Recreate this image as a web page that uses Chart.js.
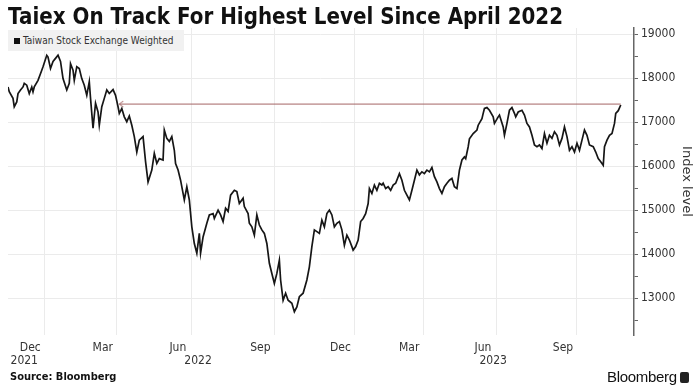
<!DOCTYPE html>
<html lang="en"><head>
<title>Taiex</title>
<style>
* { margin: 0; padding: 0 }
body { background: #fff; }
#Wrap { position: relative; width: 700px; height: 387px; background: #fff; overflow: hidden; }
#Chart { position: absolute; left: 0; top: 0; }
#Title {
    position: absolute; left: 8px; top: 3px; white-space: nowrap;
    font: bold 23px "DejaVu Sans", sans-serif;
    color: #111; transform-origin: 0 0;
}
#Legend {
    position: absolute; left: 8px; top: 30px; width: 176px; height: 21px;
    background: #f1f1f1;
    font: 10px "Liberation Sans Narrow", "DejaVu Sans Condensed", sans-serif; color: #333;
    line-height: 21px;
}
#Legend span.sq { display: inline-block; width: 6px; height: 6px; background: #111; margin: 0 3px 0 6px; vertical-align: 0; }
#Source {
    position: absolute; left: 10px; top: 370px;
    font: bold 11px "DejaVu Sans Condensed", "DejaVu Sans", sans-serif; color: #111;
}
#Logo {
    position: absolute; left: 607px; top: 368px;
    font: 15px "Liberation Sans", Arial, sans-serif; color: #111; letter-spacing: -0.3px;
}
#Logo span { display: inline-block; width: 9px; height: 11px; background: #222; border-radius: 2px; margin-left: 3px; vertical-align: -1px; }
</style>
<script src="https://cdn.jsdelivr.net/npm/chart.js"></script>
<script>

// trading session number (0 = first plotted day, late Nov 2021) and close
const sessions = [
    0, 1, 4, 5, 7, 8, 10, 12, 13, 15, 17, 19, 20, 21, 24, 27, 28, 31, 32, 34,
    36, 38, 40, 42, 44, 47, 49, 50, 52, 53, 55, 57, 59, 61, 63, 65, 66, 68, 70, 72,
    73, 75, 77, 79, 81, 84, 86, 88, 89, 91, 93, 95, 97, 99, 101, 103, 105, 108, 110, 112,
    115, 117, 119, 121, 124, 125, 127, 129, 131, 133, 134, 136, 138, 140, 141, 143, 145, 147, 149, 151,
    153, 154, 156, 159, 161, 164, 165, 168, 170, 172, 174, 176, 178, 181, 183, 185, 188, 189, 192, 193,
    195, 197, 199, 201, 203, 205, 207, 209, 211, 213, 215, 217, 218, 220, 222, 224, 227, 229, 231, 233,
    236, 239, 241, 243, 245, 247, 249, 251, 253, 255, 257, 259, 261, 263, 265, 267, 269, 271, 273, 275,
    276, 278, 280, 282, 284, 286, 288, 289, 291, 293, 295, 297, 299, 300, 302, 304, 306, 308, 310, 313,
    315, 317, 319, 321, 323, 325, 327, 329, 331, 333, 335, 337, 339, 341, 343, 345, 347, 349, 351, 353,
    355, 357, 359, 361, 363, 365, 366, 368, 369, 372, 375, 376, 379, 380, 381, 383, 385, 388, 389, 392,
    393, 396, 397, 399, 401, 403, 405, 406, 408, 411, 413, 415, 417, 419, 421, 423, 425, 427, 429, 431,
    433, 435, 437, 439, 441, 443, 445, 447, 449, 451, 453, 455, 457, 459, 461, 463, 465, 468, 470, 472,
    474, 476, 477, 479, 481, 483, 485, 486, 488, 490
];
const closes = [
    17800, 17690, 17540, 17350, 17460, 17650, 17730, 17800, 17880, 17840, 17650, 17800, 17690, 17800, 17950, 18180, 18260, 18520, 18480, 18220,
    18380, 18450, 18520, 18380, 17990, 17730, 17880, 18330, 18180, 17950, 18260, 18220, 17990, 17840, 17610, 17920, 17540, 16860, 17430, 17230,
    16930, 17350, 17540, 17730, 17650, 17740, 17610, 17350, 17200, 17310, 17120, 17010, 17140, 16930, 16670, 16320, 16590, 16670, 16100, 15640,
    15910, 16290, 16060, 16170, 16140, 16820, 16630, 16560, 16670, 16360, 16060, 15910, 15680, 15380, 15230, 15530, 15230, 14620, 14240, 14020,
    14470, 14020, 14390, 14700, 14890, 14920, 14810, 15000, 14890, 14740, 15040, 14970, 15340, 15450, 15420, 15150, 15270, 15080, 14920, 14700,
    14620, 14430, 14890, 14660, 14550, 14470, 14240, 13790, 13560, 13330, 13560, 13860, 13410, 12950, 13110, 12950, 12880, 12690, 12800, 13030,
    13110, 13410, 13710, 14170, 14550, 14510, 14470, 14770, 14620, 14920, 15000, 14890, 14620, 14700, 14740, 14550, 14200, 14430, 14320, 14170,
    14090, 14170, 14320, 14740, 14810, 14920, 15150, 15490, 15380, 15570, 15450, 15610, 15570, 15610, 15490, 15530, 15450, 15570, 15610, 15830,
    15680, 15450, 15340, 15230, 15450, 15680, 15910, 15800, 15870, 15830, 15910, 15870, 15970, 15760, 15640, 15490, 15380, 15530, 15610, 15680,
    15720, 15530, 15490, 15910, 16140, 16210, 16170, 16440, 16620, 16740, 16820, 16930, 17080, 17200, 17310, 17330, 17270, 17120, 16970, 17120,
    17160, 16890, 16700, 16970, 17270, 17330, 17200, 17120, 17230, 17270, 17160, 16970, 16890, 16700, 16480, 16440, 16480, 16400, 16740, 16520,
    16700, 16630, 16780, 16700, 16480, 16630, 16890, 16670, 16360, 16440, 16320, 16520, 16360, 16590, 16820, 16700, 16480, 16440, 16320, 16170,
    16100, 16020, 16440, 16590, 16700, 16740, 16970, 17200, 17260, 17390
];

// quarter boundaries (first session of Jan/Apr/Jul/Oct) and the month named left of each
const quarterSessions = [29, 87, 147, 213, 277, 332, 391, 455];
const monthLabels = ["Dec", "Mar", "Jun", "Sep", "Dec", "Mar", "Jun", "Sep"];
const yearSessions = [13, 152, 388];
const yearLabels = ["2021", "2022", "2023"];

const yTicks = [12500, 13000, 13500, 14000, 14500, 15000, 15500, 16000, 16500, 17000, 17500, 18000, 18500, 19000];
const Y_MIN = 12160;
const Y_MAX = 19140;
const X_MAX = 500.6;

// April 2022 level, carried to the latest close
const refLevel = 17410;
const refStart = 89;
const refEnd = 490;

const NARROW = '"Liberation Sans Narrow", "DejaVu Sans Condensed", sans-serif';

function get(id) {
    return document.getElementById(id);
}

function makeChevron() {
    const c = document.createElement("canvas");
    c.width = 12; c.height = 10;
    const g = c.getContext("2d");
    g.strokeStyle = "#a46464";
    g.lineWidth = 1;
    g.beginPath();
    g.moveTo(10, 2);
    g.lineTo(6, 5);
    g.lineTo(10, 8);
    g.stroke();
    return c;
}

function bodyOnLoad() {
    // squeeze title to the reference width
    const t = get("Title");
    const w = t.getBoundingClientRect().width;
    t.style.transform = "scaleX(" + (555 / w) + ")";

    const line = sessions.map((s, i) => ({ x: s, y: closes[i] }));
    const ref = [{ x: refStart, y: refLevel }, { x: refEnd, y: refLevel }];

    new Chart(get("Chart"), {
        type: "line",
        data: {
            datasets: [{
                data: line,
                borderColor: "#161616",
                borderWidth: 1.7,
                pointRadius: 0,
                tension: 0,
            }, {
                data: ref,
                borderColor: "#a46464",
                borderWidth: 1,
                pointRadius: [6, 0],
                pointStyle: [makeChevron(), false],
                tension: 0,
            }],
        },
        options: {
            responsive: false,
            animation: false,
            events: [],
            layout: { padding: { left: 8, top: 28, right: 0, bottom: 20 } },
            plugins: { legend: { display: false }, tooltip: { enabled: false } },
            scales: {
                x: {
                    type: "linear",
                    position: "bottom",
                    weight: 0,
                    min: 0,
                    max: X_MAX,
                    afterBuildTicks: (s) => { s.ticks = quarterSessions.map(v => ({ value: v })); },
                    afterFit: (s) => { s.height = 19; },
                    grid: { color: "#ebebeb", drawTicks: false },
                    border: { display: false },
                    ticks: {
                        autoSkip: false, maxRotation: 0, minRotation: 0,
                        padding: 6,
                        labelOffset: -14,
                        color: "#333",
                        font: { family: NARROW, size: 12 },
                        callback: (v, i) => monthLabels[i],
                    },
                },
                xYear: {
                    type: "linear",
                    position: "bottom",
                    weight: 1,
                    min: 0,
                    max: X_MAX,
                    afterBuildTicks: (s) => { s.ticks = yearSessions.map(v => ({ value: v })); },
                    afterFit: (s) => { s.height = 13; },
                    grid: { display: false, drawTicks: false },
                    border: { display: false },
                    ticks: {
                        autoSkip: false, maxRotation: 0, minRotation: 0,
                        padding: 0,
                        color: "#333",
                        font: { family: NARROW, size: 12 },
                        callback: (v, i) => yearLabels[i],
                    },
                },
                y: {
                    position: "right",
                    min: Y_MIN,
                    max: Y_MAX,
                    afterBuildTicks: (s) => { s.ticks = yTicks.map(v => ({ value: v })); },
                    afterFit: (s) => { s.width = 66; },
                    grid: {
                        color: (c) => (c.tick && c.tick.value % 1000 === 0) ? "#ebebeb" : "rgba(0,0,0,0)",
                        tickColor: "#666",
                        tickLength: 4,
                    },
                    border: { color: "#666", width: 1.5 },
                    ticks: {
                        padding: 3,
                        color: "#333",
                        font: { family: NARROW, size: 12 },
                        callback: (v) => (v % 1000 === 0) ? String(v) : "",
                    },
                    title: {
                        display: true,
                        text: "Index level",
                        color: "#333",
                        font: { family: '"DejaVu Sans", sans-serif', size: 13 },
                        padding: { top: 6, bottom: 0 },
                    },
                },
            },
        },
    });
}

</script>
</head><body onload="bodyOnLoad()">

<div id="Wrap">
  <canvas id="Chart" width="700" height="387"></canvas>
  <div id="Title">Taiex On Track For Highest Level Since April 2022</div>
  <div id="Legend"><span class="sq"></span>Taiwan Stock Exchange Weighted</div>
  <div id="Source">Source: Bloomberg</div>
  <div id="Logo">Bloomberg<span></span></div>
</div>

</body></html>
